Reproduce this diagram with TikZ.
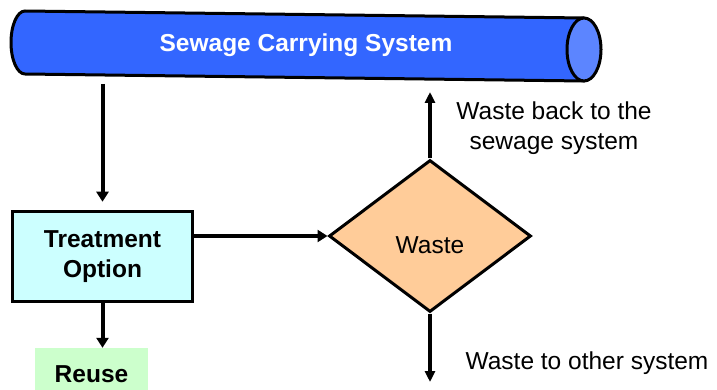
\documentclass[tikz,border=0pt]{standalone}
\usepackage{fontspec}
\setmainfont{Liberation Sans}
\usetikzlibrary{arrows.meta,shapes.geometric}
\definecolor{pipeblue}{HTML}{3366FF}
\definecolor{pipeend}{HTML}{5C85FF}
\definecolor{treatfill}{HTML}{CCFFFF}
\definecolor{reusefill}{HTML}{CCFFCC}
\definecolor{wastefill}{HTML}{FFCC99}
\begin{document}
\begin{tikzpicture}[x=1pt,y=-1pt,
  bigtext/.style={font=\fontsize{24.5}{30}\selectfont},
  flowarrow/.style={line width=4pt,-{Triangle[length=10pt,width=12pt]}},
  thinarrow/.style={line width=3.5pt,-{Triangle[length=11pt,width=10pt]}},
  boxnode/.style={draw=black,line width=3.5pt,fill=treatfill,minimum width=180pt,minimum height=90pt,align=center,bigtext,font=\bfseries\fontsize{24.5}{30}\selectfont},
  decision/.style={diamond,draw=black,line width=3pt,fill=wastefill,minimum width=202pt,minimum height=152pt,inner sep=0pt,bigtext},
  label/.style={align=center,bigtext}]
\useasboundingbox (0,0) rectangle (717,390);
% pipe body
\filldraw[fill=pipeblue,draw=black,line width=3pt,line join=round]
  (584,18) -- (25,11) arc[start angle=270,end angle=90,x radius=14,y radius=31.5] -- (584,81) -- cycle;
\filldraw[fill=pipeend,draw=black,line width=3pt] (584,49.5) ellipse[x radius=17,y radius=31.5];
\node[text=white,font=\bfseries\fontsize{24.5}{30}\selectfont] (pipe) at (306,45) {Sewage Carrying System};
\coordinate (pipebot) at (102.5,84);
\coordinate (pipein) at (430,92);
% nodes
\node[boxnode] (treat) at (102.5,256.5) {Treatment\\Option};
\node[fill=reusefill,minimum width=113pt,minimum height=52pt,inner sep=0pt,font=\bfseries\fontsize{24.5}{30}\selectfont] (reuse) at (91.5,374) {Reuse};
\node[decision] (waste) at (430,236) {\raisebox{-9pt}[\height][\depth]{Waste}};
\coordinate (otherend) at (430,382);
\node[label] (backlbl) at (554,128) {Waste back to the\\sewage system};
\node[label] (otherlbl) at (587,363) {Waste to other system};
% connectors
\draw[flowarrow] (pipebot) -- ([yshift=8pt]treat.north);
\draw[flowarrow] (treat.east |- waste.west) -- (waste.west);
\draw[flowarrow] (treat.south) -- (treat.south |- reuse.north);
\draw[thinarrow] (waste.north) -- (pipein);
\draw[thinarrow] (waste.south) -- (otherend);
\end{tikzpicture}
\end{document}
